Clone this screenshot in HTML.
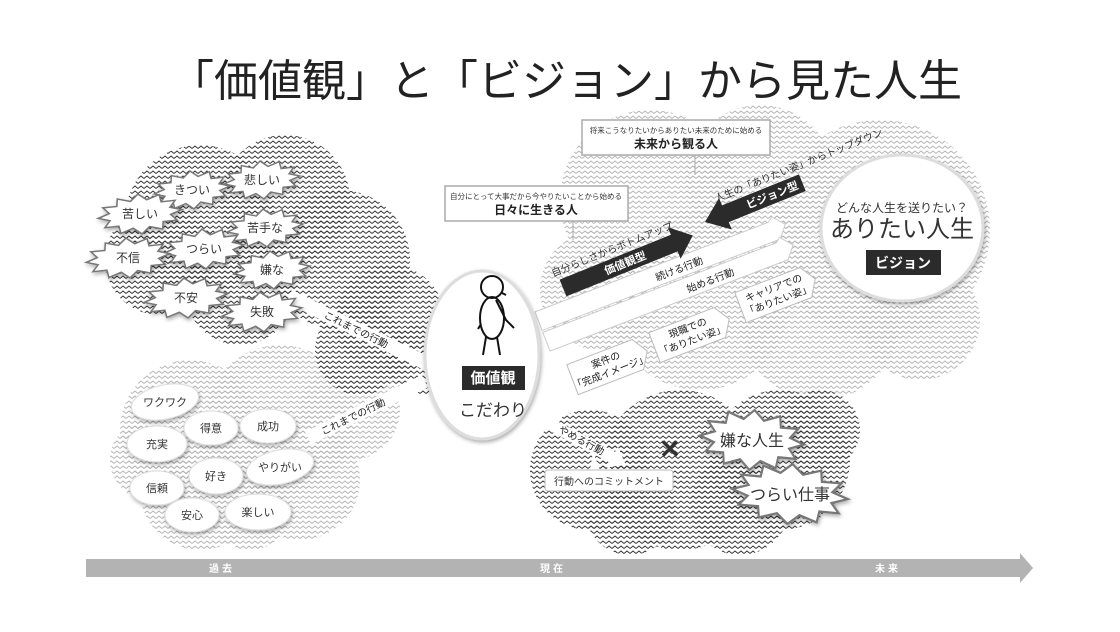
<!DOCTYPE html>
<html><head><meta charset="utf-8"><style>
html,body{margin:0;padding:0;background:#fff;}
svg{display:block;}
text{font-family:"Liberation Sans","Noto Sans CJK JP",sans-serif;}
</style></head><body>
<svg width="1120" height="632" viewBox="0 0 1120 632" xmlns="http://www.w3.org/2000/svg">
<defs>
<pattern id="dz" width="6" height="5" patternUnits="userSpaceOnUse"><path d="M0 3.5 L3 1 L6 3.5" fill="none" stroke="#333" stroke-width="1"/></pattern>
<pattern id="lz" width="6" height="5" patternUnits="userSpaceOnUse"><path d="M0 3.5 L3 1 L6 3.5" fill="none" stroke="#b5b5b5" stroke-width="1"/></pattern>
<polygon id="star" points="40,0 29,3.6 34.6,10 21.2,9.9 20,17.3 7.8,13.5 0,20 -7.8,13.5 -20,17.3 -21.2,9.9 -34.6,10 -29,3.6 -40,0 -29,-3.6 -34.6,-10 -21.2,-9.9 -20,-17.3 -7.8,-13.5 0,-20 7.8,-13.5 20,-17.3 21.2,-9.9 34.6,-10 29,-3.6" fill="#fff" stroke="#777" stroke-width="1.5"/>
<filter id="sh" x="-20%" y="-20%" width="140%" height="140%"><feGaussianBlur in="SourceAlpha" stdDeviation="2"/><feOffset dx="1" dy="2"/><feComponentTransfer><feFuncA type="linear" slope="0.35"/></feComponentTransfer><feMerge><feMergeNode/><feMergeNode in="SourceGraphic"/></feMerge></filter>
</defs>

<!-- title -->
<text x="566" y="96" font-size="44" text-anchor="middle" fill="#222">「価値観」と「ビジョン」から見た人生</text>

<!-- light clouds -->
<g fill="url(#lz)">
<circle cx="190" cy="430" r="70"/><circle cx="280" cy="420" r="75"/><circle cx="200" cy="490" r="60"/><circle cx="300" cy="480" r="60"/><circle cx="350" cy="410" r="50"/><circle cx="150" cy="460" r="40"/><circle cx="250" cy="510" r="40"/>
<circle cx="650" cy="200" r="90"/><circle cx="760" cy="180" r="75"/><circle cx="880" cy="230" r="110"/><circle cx="700" cy="300" r="90"/><circle cx="820" cy="320" r="80"/><circle cx="600" cy="290" r="60"/><circle cx="920" cy="320" r="60"/>
</g>
<!-- dark clouds -->
<g fill="url(#dz)">
<circle cx="200" cy="220" r="75"/><circle cx="285" cy="200" r="65"/><circle cx="340" cy="260" r="70"/><circle cx="390" cy="320" r="55"/><circle cx="160" cy="260" r="55"/><circle cx="240" cy="290" r="55"/><circle cx="420" cy="360" r="35"/><circle cx="360" cy="350" r="45"/>
<circle cx="590" cy="470" r="60"/><circle cx="680" cy="470" r="80"/><circle cx="780" cy="460" r="70"/><circle cx="740" cy="505" r="50"/><circle cx="630" cy="510" r="45"/><circle cx="820" cy="430" r="40"/>
</g>

<!-- left bands -->
<g transform="translate(292,290) rotate(26)"><rect x="0" y="0" width="160" height="14" fill="#fff"/><text x="40" y="11" font-size="10" fill="#222">これまでの行動</text></g>
<g transform="translate(320,440) rotate(-26)"><rect x="-10" y="-14" width="130" height="14" fill="#fff"/><text x="5" y="-3" font-size="10" fill="#222">これまでの行動</text></g>

<!-- right bands -->
<g transform="translate(545,338) rotate(-21)">
<polygon points="0,-28 250,-28 255,-32 265,-20 255,-8 0,-8" fill="#fff" stroke="#ccc"/>
<polygon points="0,-6 250,-6 255,-10 265,2 255,14 0,14" fill="#fff" stroke="#ccc"/>
<text x="125" y="-13" font-size="10" fill="#222">続ける行動</text>
<text x="150" y="9" font-size="10" fill="#222">始める行動</text>
</g>
<!-- pentagons -->
<g font-size="10" fill="#222" text-anchor="middle">
<g transform="translate(608,366) rotate(-21)"><polygon points="-38,-16 32,-16 42,0 32,16 -38,16" fill="#fff" stroke="#bbb"/><text x="0" y="-3">案件の</text><text x="0" y="10">「完成イメージ」</text></g>
<g transform="translate(690,334) rotate(-21)"><polygon points="-38,-16 32,-16 42,0 32,16 -38,16" fill="#fff" stroke="#bbb"/><text x="0" y="-3">現職での</text><text x="0" y="10">「ありたい姿」</text></g>
<g transform="translate(776,294) rotate(-21)"><polygon points="-38,-16 32,-16 42,0 32,16 -38,16" fill="#fff" stroke="#bbb"/><text x="0" y="-3">キャリアでの</text><text x="0" y="10">「ありたい姿」</text></g>
</g>

<!-- black arrows -->
<g transform="translate(563,288) rotate(-22)"><polygon points="0,-9 120,-9 120,-17 140,0 120,17 120,9 0,9" fill="#2b2b2b"/><text x="45" y="4" font-size="11" font-weight="bold" fill="#fff">価値観型</text><text x="-5" y="-14" font-size="10" fill="#333">自分らしさからボトムアップ</text></g>
<g transform="translate(705,222) rotate(-22)"><polygon points="0,0 22,-17 22,-9 105,-9 105,9 22,9 22,17" fill="#2b2b2b"/><text x="45" y="4" font-size="11" font-weight="bold" fill="#fff">ビジョン型</text><text x="18" y="-14" font-size="10" fill="#333">人生の「ありたい姿」からトップダウン</text></g>

<!-- callout boxes -->
<line x1="695" y1="155" x2="695" y2="175" stroke="#aaa"/>
<rect x="582" y="120" width="188" height="35" fill="#fff" stroke="#aaa" stroke-width="1.5"/>
<text x="676" y="133" font-size="7.5" text-anchor="middle" fill="#333">将来こうなりたいからありたい未来のために始める</text>
<text x="676" y="148" font-size="12" font-weight="bold" text-anchor="middle" fill="#222">未来から観る人</text>
<line x1="573" y1="222" x2="573" y2="240" stroke="#aaa"/>
<rect x="445" y="186" width="183" height="35" fill="#fff" stroke="#aaa" stroke-width="1.5"/>
<text x="536" y="199" font-size="7.5" text-anchor="middle" fill="#333">自分にとって大事だから今やりたいことから始める</text>
<text x="536" y="214" font-size="12" font-weight="bold" text-anchor="middle" fill="#222">日々に生きる人</text>

<!-- やめる行動 -->
<g transform="translate(540,412) rotate(28)"><polygon points="0,0 85,0 85,-6 100,6 85,18 85,12 0,12" fill="#fff"/><text x="25" y="9" font-size="10" fill="#222">やめる行動</text></g>
<text x="670" y="458" font-size="26" font-weight="bold" text-anchor="middle" fill="#333">✕</text>
<polygon points="590,470 593,452 600,470" fill="#fff"/>
<rect x="545" y="470" width="128" height="21" rx="3" fill="#fff" stroke="#bbb"/>
<text x="609" y="485" font-size="10" text-anchor="middle" fill="#333">行動へのコミットメント</text>

<!-- center oval -->
<ellipse cx="482" cy="355" rx="57" ry="84" fill="#fff" stroke="#ddd" stroke-width="3" filter="url(#sh)"/>
<g fill="none" stroke="#111" stroke-width="2">
<circle cx="492" cy="287" r="11"/><path d="M502,293 l4,2"/>
<ellipse cx="492" cy="318" rx="12" ry="21"/>
<path d="M496,300 l10,20 l8,8"/><path d="M481,324 l-3,5"/>
<path d="M486,337 l-3,18 M497,337 l3,18"/>
</g>
<rect x="462" y="366" width="63" height="24" fill="#2b2b2b"/>
<text x="493" y="383" font-size="15" font-weight="bold" text-anchor="middle" fill="#fff">価値観</text>
<text x="493" y="416" font-size="17" text-anchor="middle" fill="#333">こだわり</text>

<!-- right circle -->
<ellipse cx="902" cy="228" rx="81" ry="73" fill="#fff" stroke="#ddd" stroke-width="3" filter="url(#sh)"/>
<text x="902" y="212" font-size="12" text-anchor="middle" fill="#333">どんな人生を送りたい？</text>
<text x="902" y="237" font-size="24" text-anchor="middle" fill="#333">ありたい人生</text>
<rect x="866" y="250" width="75" height="25" fill="#2b2b2b"/>
<text x="903" y="268" font-size="14" font-weight="bold" text-anchor="middle" fill="#fff">ビジョン</text>

<!-- stars -->
<g font-size="12" text-anchor="middle" fill="#333">
<g filter="url(#sh)">
<use href="#star" transform="translate(262,180) rotate(-6) scale(0.95,0.95)"/>
<use href="#star" transform="translate(192,190) rotate(-6) scale(0.95)"/>
<use href="#star" transform="translate(140,214) rotate(-6) scale(1.05,1)"/>
<use href="#star" transform="translate(265,228) rotate(-6) scale(0.95)"/>
<use href="#star" transform="translate(204,249) rotate(-6) scale(1)"/>
<use href="#star" transform="translate(128,258) rotate(-6) scale(1.05,1)"/>
<use href="#star" transform="translate(272,270) rotate(-6) scale(0.95)"/>
<use href="#star" transform="translate(186,298) rotate(-6) scale(1.05,1)"/>
<use href="#star" transform="translate(262,312) rotate(-6) scale(1)"/>
<use href="#star" transform="translate(752,440) rotate(5) scale(1.3,1.5)"/>
<use href="#star" transform="translate(790,494) rotate(5) scale(1.45,1.5)"/>
</g>
<text x="262" y="184">悲しい</text><text x="192" y="194">きつい</text><text x="140" y="218">苦しい</text>
<text x="265" y="232">苦手な</text><text x="204" y="253">つらい</text><text x="128" y="262">不信</text>
<text x="272" y="274">嫌な</text><text x="186" y="302">不安</text><text x="262" y="316">失敗</text>
<text x="752" y="446" font-size="16">嫌な人生</text><text x="790" y="500" font-size="16">つらい仕事</text>
</g>

<!-- ellipses -->
<g filter="url(#sh)" fill="#fff" stroke="#ddd">
<ellipse cx="165" cy="402" rx="34" ry="17" transform="rotate(-12 165 402)"/>
<ellipse cx="211" cy="428" rx="27" ry="17"/>
<ellipse cx="268" cy="426" rx="28" ry="17"/>
<ellipse cx="157" cy="444" rx="30" ry="18"/>
<ellipse cx="157" cy="488" rx="27" ry="17"/>
<ellipse cx="216" cy="476" rx="27" ry="18"/>
<ellipse cx="280" cy="467" rx="34" ry="17" transform="rotate(-12 280 467)"/>
<ellipse cx="192" cy="515" rx="27" ry="17"/>
<ellipse cx="258" cy="512" rx="33" ry="18"/>
</g>
<g font-size="11" text-anchor="middle" fill="#333">
<text x="165" y="406">ワクワク</text><text x="211" y="432">得意</text><text x="268" y="430">成功</text>
<text x="157" y="448">充実</text><text x="157" y="492">信頼</text><text x="216" y="480">好き</text>
<text x="280" y="471">やりがい</text><text x="192" y="519">安心</text><text x="258" y="516">楽しい</text>
</g>

<!-- timeline -->
<polygon points="86,559 1020,559 1020,553 1033,568 1020,583 1020,577 86,577" fill="#b3b3b3"/>
<g font-size="10" font-weight="bold" fill="#fff" text-anchor="middle">
<text x="222" y="572" letter-spacing="3">過去</text><text x="553" y="572" letter-spacing="3">現在</text><text x="888" y="572" letter-spacing="3">未来</text>
</g>
</svg>
</body></html>
